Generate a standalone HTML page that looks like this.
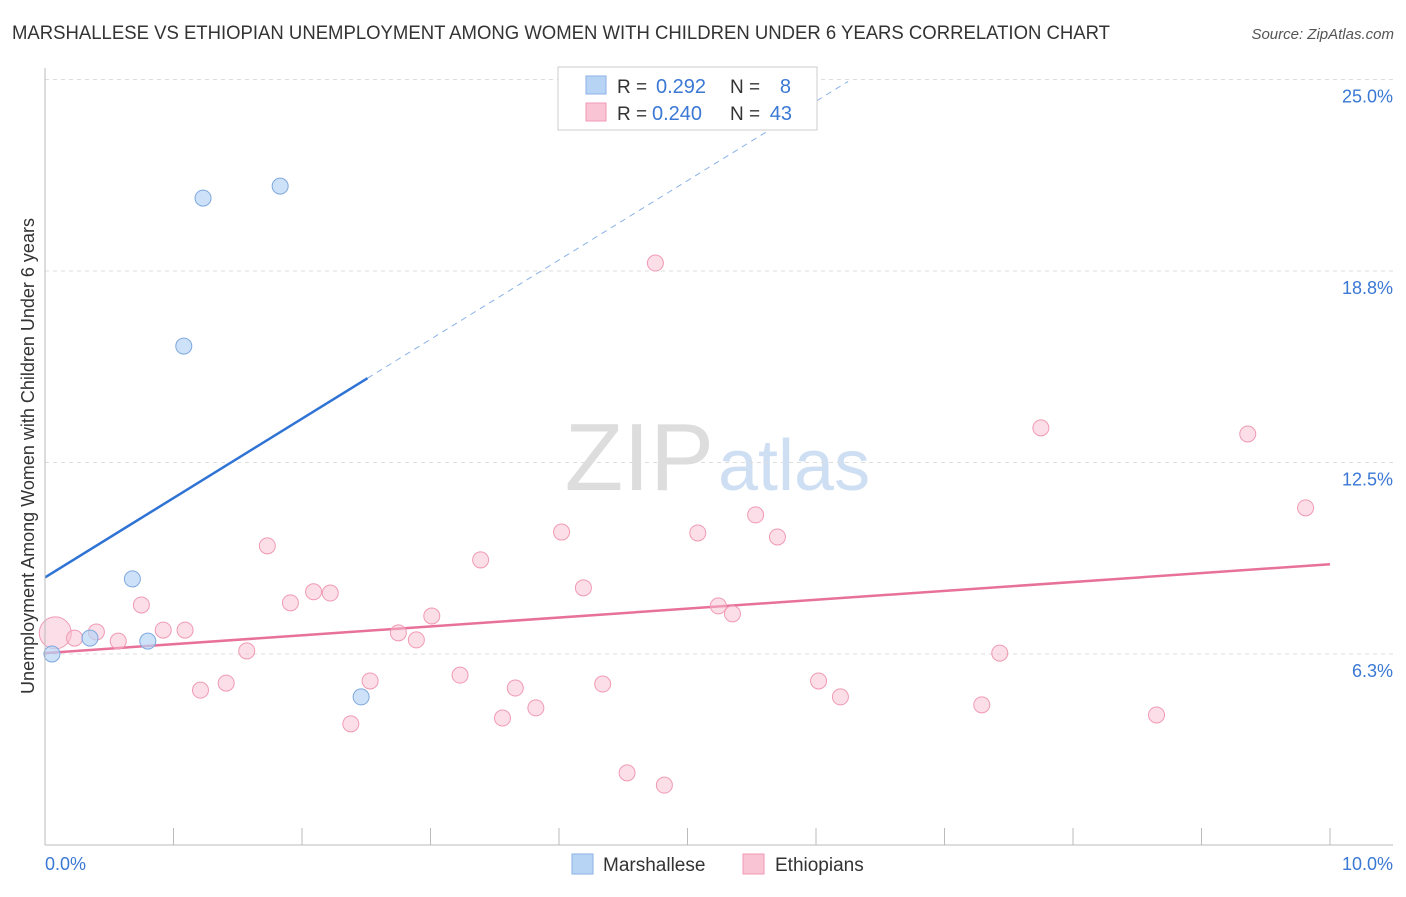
<!DOCTYPE html>
<html><head><meta charset="utf-8"><style>
body{margin:0;background:#fff;font-family:"Liberation Sans",sans-serif;}
svg text{font-family:"Liberation Sans",sans-serif;}
</style></head><body>
<svg id="c" width="1406" height="892" xmlns="http://www.w3.org/2000/svg">
<text x="12" y="39" font-size="19" fill="#333" textLength="1098" lengthAdjust="spacingAndGlyphs">MARSHALLESE VS ETHIOPIAN UNEMPLOYMENT AMONG WOMEN WITH CHILDREN UNDER 6 YEARS CORRELATION CHART</text>
<text x="1394" y="39" font-size="15" fill="#555" text-anchor="end" font-style="italic">Source: ZipAtlas.com</text>
<text transform="translate(34,456) rotate(-90)" font-size="18" fill="#333" text-anchor="middle">Unemployment Among Women with Children Under 6 years</text>
<text x="714" y="490" font-size="96" text-anchor="end" fill="#ddd" font-family="Liberation Serif">ZIP</text>
<text x="718" y="490" font-size="72" fill="#cfdff3">atlas</text>
<g id="grid"></g><g id="ticks"></g><g id="lines"></g><g id="pts"></g>
<line x1="45" y1="845" x2="1393" y2="845" stroke="#bbb"/>
<line x1="45" y1="68" x2="45" y2="845" stroke="#bbb"/>
<g>
<rect x="558" y="67" width="259" height="63" fill="#fff" stroke="#ccc"/>
<rect x="586" y="76" width="20" height="18" fill="#b8d4f5" stroke="#8ab2e6"/>
<rect x="586" y="103" width="20" height="18" fill="#f9c4d4" stroke="#f09ab3"/>
<text x="617" y="93" font-size="19" fill="#333">R =</text>
<text x="656" y="93" font-size="20" fill="#3a78d4">0.292</text>
<text x="730" y="93" font-size="19" fill="#333">N =</text>
<text x="791" y="93" font-size="20" fill="#3a78d4" text-anchor="end">8</text>
<text x="617" y="120" font-size="19" fill="#333">R =</text>
<text x="652" y="120" font-size="20" fill="#3a78d4">0.240</text>
<text x="730" y="120" font-size="19" fill="#333">N =</text>
<text x="792" y="120" font-size="20" fill="#3a78d4" text-anchor="end">43</text>
</g>
<g>
<rect x="572" y="854" width="21" height="20" fill="#b8d4f5" stroke="#8ab2e6"/>
<text x="603" y="871" font-size="19" fill="#333">Marshallese</text>
<rect x="743" y="854" width="21" height="20" fill="#f9c4d4" stroke="#f09ab3"/>
<text x="775" y="871" font-size="19" fill="#333">Ethiopians</text>
</g>
<text x="45" y="870" font-size="18" fill="#3a78d4">0.0%</text>
<text x="1393" y="870" font-size="18" fill="#3a78d4" text-anchor="end">10.0%</text>
</svg>
<script>
const yTicks=[25.0,18.8,12.5,6.3];
const yTickVals=[25,18.75,12.5,6.25];
const xTickVals=[0,1,2,3,4,5,6,7,8,9,10];
const marX=[0.054,0.35,0.68,0.80,1.08,1.23,1.83,2.46];
const marY=[6.25,6.77,8.70,6.67,16.30,21.13,21.52,4.85];
const ethX=[0.08,0.23,0.40,0.57,0.75,0.92,1.09,1.21,1.41,1.57,1.73,1.91,2.09,2.22,2.38,2.53,2.75,2.89,3.01,3.23,3.39,3.56,3.66,3.82,4.02,4.19,4.34,4.53,4.75,4.82,5.08,5.24,5.35,5.53,5.70,6.02,6.19,7.29,7.43,7.75,8.65,9.36,9.81];
const ethY=[6.94,6.77,6.97,6.67,7.85,7.03,7.03,5.07,5.30,6.35,9.78,7.92,8.28,8.24,3.97,5.37,6.94,6.71,7.49,5.56,9.32,4.16,5.14,4.49,10.23,8.41,5.27,2.37,19.01,1.97,10.20,7.82,7.56,10.79,10.07,5.37,4.85,4.59,6.28,13.63,4.26,13.43,11.02];
const marTrend=[8.75,2.59];
const ethTrend=[6.28,0.29];
const NS="http://www.w3.org/2000/svg";
const X=v=>45+v*128.5, Y=v=>845.5-v*30.64;
function mk(p,t,a){const e=document.createElementNS(NS,t);for(const k in a)e.setAttribute(k,a[k]);document.getElementById(p).appendChild(e);return e;}
yTickVals.forEach((v,i)=>{
 const l=mk('grid','line',{x1:45,x2:1393,y1:Y(v),y2:Y(v),stroke:'#ddd','stroke-dasharray':'4,4'});
 
 
 const t=mk('grid','text',{x:1393,y:Y(v)+23,'font-size':18,fill:'#3a78d4','text-anchor':'end'});
 t.textContent=yTicks[i].toFixed(1)+'%';
 
 
});
xTickVals.forEach(v=>{
 const l=mk('ticks','line',{x1:X(v),x2:X(v),y1:828,y2:845,stroke:'#bbb'});
 
 
});
let l=mk('lines','line',{x1:X(0),y1:Y(marTrend[0]),x2:X(2.51),y2:Y(marTrend[0]+marTrend[1]*2.51),stroke:'#2f73d4','stroke-width':2.5});


l=mk('lines','line',{x1:X(2.51),y1:Y(marTrend[0]+marTrend[1]*2.51),x2:X(6.25),y2:Y(marTrend[0]+marTrend[1]*6.25),stroke:'#8ab2e6','stroke-width':1,'stroke-dasharray':'6,5'});


l=mk('lines','line',{x1:X(0),y1:Y(ethTrend[0]),x2:X(10),y2:Y(ethTrend[0]+ethTrend[1]*10),stroke:'#e8719a','stroke-width':2.5});


ethX.forEach((x,i)=>{
 const c=mk('pts','circle',{cx:X(x),cy:Y(ethY[i]),r:i==0?16:8,fill:'rgba(248,190,208,0.5)',stroke:'#f09ab3','stroke-width':1});
 
 
});
marX.forEach((x,i)=>{
 const c=mk('pts','circle',{cx:X(x),cy:Y(marY[i]),r:8,fill:'rgba(184,212,245,0.7)',stroke:'#7fa8de','stroke-width':1});
 
 
});
</script>
</body></html>
